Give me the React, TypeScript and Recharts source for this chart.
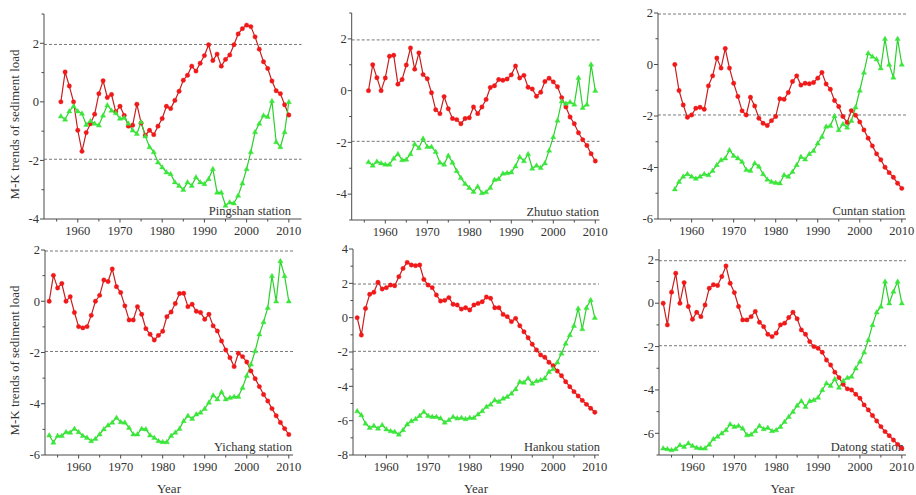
import React from 'react'
import { LineChart, Line, XAxis, YAxis, ReferenceLine } from 'recharts'

// Mann-Kendall UF (forward, red) and UB (backward, green) statistics per station
const pingshanStart = 1956
const pingshanUF = [0, 1.02, 0.54, 0, -0.97, -1.69, -1.05, -0.75, -0.42, 0.28, 0.72, 0.15, 0.25, -0.34, -0.15, -0.46, -0.83, -0.8, -0.08, -0.72, -1.14, -0.97, -1.12, -0.83, -0.57, -0.15, -0.23, 0.05, 0.36, 0.74, 0.91, 1.22, 1.05, 1.32, 1.58, 1.95, 1.41, 1.63, 1.22, 1.45, 1.6, 1.95, 2.32, 2.5, 2.62, 2.57, 2.22, 1.8, 1.37, 1.14, 0.71, 0.38, 0.28, -0.1, -0.45]
const pingshanUB = [-0.49, -0.6, -0.32, -0.15, -0.32, -0.4, -0.78, -0.65, -0.74, -0.8, -0.46, -0.11, -0.29, -0.38, -0.57, -0.54, -0.74, -0.97, -1.09, -0.69, -1.17, -1.54, -1.71, -2.06, -2.23, -2.4, -2.46, -2.74, -2.86, -3.0, -2.74, -2.86, -2.57, -2.74, -2.8, -2.63, -2.29, -3.09, -3.09, -3.54, -3.43, -3.46, -3.2, -2.78, -2.29, -1.71, -1.03, -0.74, -0.46, -0.51, 0.03, -1.37, -1.54, -1.03, 0]

const zhutuoStart = 1956
const zhutuoUF = [0, 1.0, 0.5, 0, 0.49, 1.33, 1.37, 0.25, 0.43, 0.99, 1.65, 0.83, 1.46, 0.62, 0.46, -0.08, -0.74, -0.89, -0.23, -0.7, -1.08, -1.12, -1.28, -1.08, -1.05, -0.63, -0.89, -0.63, -0.34, 0.12, 0.19, 0.43, 0.4, 0.45, 0.61, 0.95, 0.49, 0.59, 0.13, 0.06, -0.22, -0.06, 0.35, 0.48, 0.34, 0.15, -0.27, -0.63, -1.02, -1.28, -1.63, -1.9, -2.12, -2.44, -2.72]
const zhutuoUB = [-2.76, -2.89, -2.74, -2.8, -2.85, -2.85, -2.62, -2.45, -2.68, -2.66, -2.45, -2.06, -2.22, -1.85, -2.17, -2.17, -2.36, -2.78, -2.85, -2.51, -2.78, -3.1, -3.37, -3.6, -3.75, -3.91, -3.7, -3.95, -3.92, -3.75, -3.44, -3.41, -3.2, -3.18, -3.15, -2.92, -2.56, -2.72, -2.45, -3.01, -2.89, -2.98, -2.8, -2.31, -1.79, -1.15, -0.41, -0.5, -0.44, -0.53, 0.5, -0.66, -0.53, 1.01, 0]

const cuntanStart = 1956
const cuntanUF = [0, -1.01, -1.57, -2.05, -1.96, -1.7, -1.66, -1.74, -0.83, -0.44, 0.25, -0.14, 0.62, -0.14, -0.73, -1.24, -1.8, -1.96, -1.27, -1.61, -2.09, -2.28, -2.37, -2.18, -2.02, -1.33, -1.35, -1.09, -0.66, -0.44, -0.8, -0.73, -0.75, -0.7, -0.53, -0.31, -0.76, -0.96, -1.4, -1.63, -2.02, -2.25, -1.79, -1.97, -2.23, -2.54, -2.86, -3.16, -3.47, -3.7, -3.99, -4.2, -4.38, -4.61, -4.81]
const cuntanUB = [-4.84, -4.55, -4.35, -4.25, -4.35, -4.43, -4.35, -4.25, -4.29, -4.12, -3.9, -3.71, -3.64, -3.32, -3.54, -3.64, -3.77, -4.09, -4.12, -3.83, -3.96, -4.25, -4.46, -4.55, -4.59, -4.61, -4.29, -4.35, -4.16, -3.9, -3.58, -3.68, -3.47, -3.35, -3.06, -2.8, -2.41, -2.38, -2.0, -2.54, -2.31, -2.44, -2.18, -1.66, -1.01, -0.31, 0.44, 0.31, 0.21, -0.14, 1.0, 0, -0.5, 1.0, 0]

const yichangStart = 1953
const yichangUF = [0, 1.01, 0.52, 0.69, 0, 0.18, -0.44, -0.99, -1.04, -0.99, -0.55, 0, 0.23, 0.83, 0.77, 1.26, 0.57, 0.34, -0.18, -0.73, -0.73, -0.21, -0.51, -1.07, -1.29, -1.51, -1.33, -1.17, -0.6, -0.42, -0.09, 0.3, 0.31, -0.21, -0.12, -0.39, -0.44, -0.7, -0.51, -0.96, -1.16, -1.55, -1.9, -2.2, -2.55, -2.03, -2.16, -2.37, -2.72, -3.02, -3.33, -3.64, -3.89, -4.19, -4.47, -4.73, -4.97, -5.2]
const yichangUB = [-5.23, -5.51, -5.25, -5.25, -5.1, -5.12, -4.97, -5.1, -5.25, -5.32, -5.45, -5.36, -5.19, -4.99, -4.84, -4.73, -4.54, -4.71, -4.73, -4.93, -5.19, -5.19, -4.97, -4.99, -5.23, -5.32, -5.45, -5.49, -5.49, -5.25, -5.12, -4.97, -4.67, -4.47, -4.58, -4.41, -4.34, -4.19, -3.95, -3.67, -3.82, -3.54, -3.82, -3.76, -3.72, -3.72, -3.37, -2.91, -2.46, -1.94, -1.29, -0.81, -0.25, 0.99, 0, 1.57, 0.99, 0]

const hankouStart = 1953
const hankouUF = [0, -1.01, 0.54, 1.36, 1.48, 2.06, 1.67, 1.75, 1.9, 1.86, 2.39, 2.87, 3.22, 3.07, 3.03, 3.07, 2.23, 1.9, 1.75, 1.32, 0.97, 1.01, 1.17, 0.78, 0.74, 0.5, 0.58, 0.45, 0.74, 0.83, 0.93, 1.2, 1.13, 0.58, 0.58, 0.19, 0.06, -0.23, -0.04, -0.47, -0.82, -1.17, -1.55, -1.88, -2.17, -2.31, -2.6, -2.8, -3.11, -3.38, -3.73, -4.02, -4.31, -4.56, -4.82, -5.05, -5.28, -5.51]
const hankouUB = [-5.44, -5.67, -6.16, -6.41, -6.29, -6.45, -6.25, -6.5, -6.6, -6.64, -6.8, -6.54, -6.21, -6.02, -5.9, -5.71, -5.48, -5.71, -5.77, -5.77, -5.86, -6.1, -5.96, -5.77, -5.86, -5.83, -5.9, -5.83, -5.83, -5.63, -5.44, -5.18, -5.05, -4.8, -4.89, -4.7, -4.6, -4.41, -4.16, -3.73, -3.77, -3.53, -3.83, -3.69, -3.63, -3.53, -3.15, -2.99, -2.6, -2.08, -1.5, -1.01, -0.47, 0.54, -0.66, 0.58, 1.03, 0]

const datongStart = 1953
const datongUF = [0, -1.0, 0.51, 1.38, 0, 0.95, -0.15, -0.74, -0.42, -0.62, -0.08, 0.69, 0.85, 0.82, 1.23, 1.72, 0.92, 0.49, -0.15, -0.77, -0.77, -0.62, -0.38, -0.88, -1.08, -1.43, -1.54, -1.38, -1.0, -0.92, -0.66, -0.42, -0.72, -1.23, -1.43, -1.77, -2.0, -2.08, -2.26, -2.62, -2.85, -3.18, -3.43, -3.74, -3.95, -4.0, -4.2, -4.38, -4.69, -4.92, -5.18, -5.43, -5.69, -5.92, -6.11, -6.31, -6.51, -6.69]
const datongUB = [-6.69, -6.72, -6.77, -6.72, -6.54, -6.62, -6.46, -6.57, -6.66, -6.69, -6.69, -6.51, -6.26, -6.15, -6.0, -5.85, -5.58, -5.69, -5.65, -5.77, -6.08, -6.05, -5.89, -5.65, -5.8, -5.74, -5.89, -5.85, -5.69, -5.46, -5.23, -5.0, -4.72, -4.51, -4.77, -4.51, -4.46, -4.35, -4.0, -3.69, -3.8, -3.49, -3.89, -3.58, -3.43, -3.38, -3.0, -2.69, -2.26, -1.69, -1.0, -0.42, -0.15, 1.0, 0, 0.54, 1.0, 0]

const xTicks = [1955, 1960, 1965, 1970, 1975, 1980, 1985, 1990, 1995, 2000, 2005, 2010]
const criticalValue = 1.96

const FONT = '"Liberation Serif", "Times New Roman", serif'
const AXIS = '#4a4a4a'
const TEXT = '#333'
const RED_LINE = '#c81e1e'
const RED_DOT = '#f01818'
const GREEN_LINE = '#2bd12b'
const GREEN_DOT = '#3be63b'

type Rect = { x: number; y: number; w: number; h: number }
type Plot = { l: number; r: number; t: number; b: number }

interface PanelProps {
    name: string
    start: number
    uf: number[]
    ub: number[]
    box: Rect
    plot: Plot
    xDomain: [number, number]
    yDomain: [number, number]
    yTicks: number[]
    labelRight: number
    yTitle?: boolean
    xTitle?: boolean
}

const range = (a: number, b: number) => {
    const out: number[] = []
    for (let v = a; v <= b; v++) out.push(v)
    return out
}

const Triangle = (p: any) => {
    if (p.cx == null || p.cy == null) return <g key={`t-${p.index}`} />
    const { cx, cy } = p
    return (
        <polygon
            key={`t-${p.index}`}
            points={`${cx},${cy - 2.7} ${cx - 2.6},${cy + 1.8} ${cx + 2.6},${cy + 1.8}`}
            fill={GREEN_DOT}
            stroke={GREEN_DOT}
            strokeWidth={0.4}
        />
    )
}

const XTick = (p: any) => {
    const v = p.payload.value
    const major = v % 10 === 0
    return (
        <g>
            <line x1={p.x} x2={p.x} y1={p.y} y2={p.y + (major ? 3.5 : 2.5)} stroke={AXIS} strokeWidth={1} />
            {major && (
                <text x={p.x} y={p.y + 16} textAnchor="middle" fontFamily={FONT} fontSize={12.5} fill={TEXT}>
                    {v}
                </text>
            )}
        </g>
    )
}

const YTick = (p: any) => {
    const v = p.payload.value
    const major = v % 2 === 0
    return (
        <g>
            <line x1={p.x - (major ? 4 : 2.5)} x2={p.x} y1={p.y} y2={p.y} stroke={AXIS} strokeWidth={1} />
            {major && (
                <text x={p.x - 5} y={p.y} dy="0.34em" textAnchor="end" fontFamily={FONT} fontSize={12.5} fill={TEXT}>
                    {v}
                </text>
            )}
        </g>
    )
}

const Panel: React.FC<PanelProps> = ({ name, start, uf, ub, box, plot, xDomain, yDomain, yTicks, labelRight, yTitle, xTitle }) => {
    const data = uf.map((v, i) => ({ year: start + i, uf: v, ub: ub[i] }))
    const l = plot.l - box.x
    const r = plot.r - box.x
    const t = plot.t - box.y
    const b = plot.b - box.y
    const midY = (t + b) / 2 + 8

    return (
        <div style={{ position: 'absolute', left: box.x, top: box.y }}>
            <LineChart width={box.w} height={box.h} data={data} margin={{ top: t, right: box.w - r, bottom: 0, left: 0 }}>
                <XAxis
                    type="number"
                    dataKey="year"
                    domain={xDomain}
                    ticks={xTicks}
                    interval={0}
                    allowDataOverflow
                    height={box.h - b}
                    stroke={AXIS}
                    tickLine={false}
                    tickSize={0}
                    tickMargin={0}
                    tick={XTick}
                    label={() => (
                        <g>
                            <text x={labelRight - box.x} y={b - 4} textAnchor="end" fontFamily={FONT} fontSize={12.5} fill={TEXT}>
                                {name}
                            </text>
                            {xTitle && (
                                <text x={(l + r) / 2} y={b + 38} textAnchor="middle" fontFamily={FONT} fontSize={13} fill={TEXT}>
                                    Year
                                </text>
                            )}
                        </g>
                    )}
                />
                <YAxis
                    type="number"
                    domain={yDomain}
                    ticks={yTicks}
                    interval={0}
                    allowDataOverflow
                    width={l}
                    stroke={AXIS}
                    tickLine={false}
                    tickSize={0}
                    tickMargin={0}
                    tick={YTick}
                    label={() =>
                        yTitle ? (
                            <text
                                x={19}
                                y={midY}
                                transform={`rotate(-90, 19, ${midY})`}
                                textAnchor="middle"
                                fontFamily={FONT}
                                fontSize={13}
                                fill={TEXT}
                            >
                                M-K trends of sediment load
                            </text>
                        ) : (
                            <g />
                        )
                    }
                />
                <ReferenceLine y={criticalValue} stroke="#555" strokeDasharray="3 2" strokeWidth={0.8} />
                <ReferenceLine y={-criticalValue} stroke="#555" strokeDasharray="3 2" strokeWidth={0.8} />
                <Line
                    type="linear"
                    dataKey="uf"
                    stroke={RED_LINE}
                    strokeWidth={1.2}
                    dot={{ r: 2.2, fill: RED_DOT, stroke: RED_DOT, strokeWidth: 0.4 }}
                    activeDot={false}
                    isAnimationActive={false}
                />
                <Line
                    type="linear"
                    dataKey="ub"
                    stroke={GREEN_LINE}
                    strokeWidth={1.2}
                    dot={Triangle}
                    activeDot={false}
                    isAnimationActive={false}
                />
            </LineChart>
        </div>
    )
}

export default function App() {
    return (
        <div style={{ position: 'fixed', left: 0, top: 0, width: 916, height: 495, background: '#fff' }}>
            <Panel
                name="Pingshan station" start={pingshanStart} uf={pingshanUF} ub={pingshanUB}
                box={{ x: 0, y: 0, w: 310, h: 240 }} plot={{ l: 44, r: 301.5, t: 14, b: 219 }}
                xDomain={[1952, 2013]} yDomain={[-4, 3]} yTicks={range(-4, 3)} labelRight={291} yTitle
            />
            <Panel
                name="Zhutuo station" start={zhutuoStart} uf={zhutuoUF} ub={zhutuoUB}
                box={{ x: 310, y: 0, w: 302, h: 240 }} plot={{ l: 351.7, r: 599.5, t: 13, b: 220 }}
                xDomain={[1952, 2011]} yDomain={[-5, 3]} yTicks={range(-5, 3)} labelRight={599}
            />
            <Panel
                name="Cuntan station" start={cuntanStart} uf={cuntanUF} ub={cuntanUB}
                box={{ x: 612, y: 0, w: 304, h: 240 }} plot={{ l: 658, r: 906, t: 13, b: 219 }}
                xDomain={[1952, 2011]} yDomain={[-6, 2]} yTicks={range(-6, 2)} labelRight={905}
            />
            <Panel
                name="Yichang station" start={yichangStart} uf={yichangUF} ub={yichangUB}
                box={{ x: 0, y: 240, w: 310, h: 255 }} plot={{ l: 45, r: 293, t: 250, b: 455 }}
                xDomain={[1952, 2011]} yDomain={[-6, 2]} yTicks={range(-6, 2)} labelRight={292} yTitle xTitle
            />
            <Panel
                name="Hankou station" start={hankouStart} uf={hankouUF} ub={hankouUB}
                box={{ x: 310, y: 240, w: 302, h: 255 }} plot={{ l: 353, r: 599, t: 249, b: 455 }}
                xDomain={[1952, 2011]} yDomain={[-8, 4]} yTicks={range(-8, 4)} labelRight={600} xTitle
            />
            <Panel
                name="Datong station" start={datongStart} uf={datongUF} ub={datongUB}
                box={{ x: 612, y: 240, w: 304, h: 255 }} plot={{ l: 659, r: 906, t: 249, b: 455 }}
                xDomain={[1952, 2011]} yDomain={[-7, 2.5]} yTicks={range(-7, 2)} labelRight={904} xTitle
            />
        </div>
    )
}
